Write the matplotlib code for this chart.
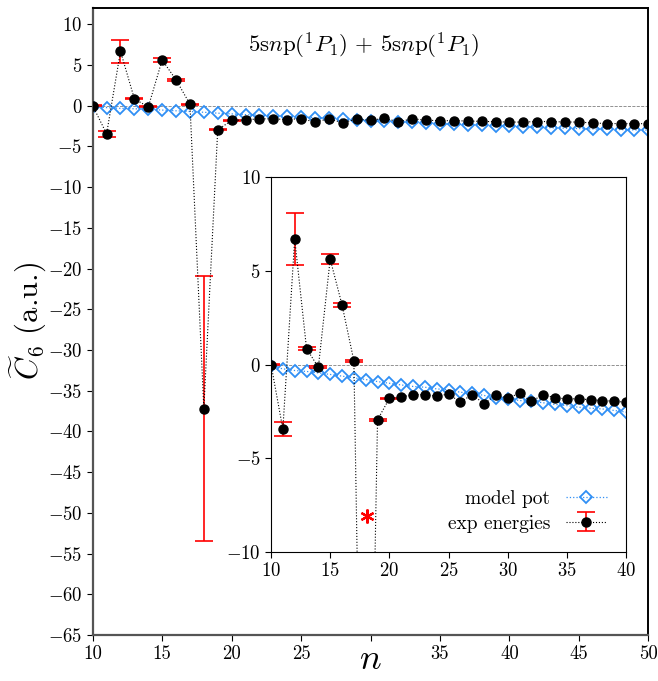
import numpy as np
import matplotlib
matplotlib.use("Agg")
import matplotlib.pyplot as plt

plt.rcParams['font.family'] = 'serif'
plt.rcParams['font.serif'] = ['cmr10', 'DejaVu Serif']
plt.rcParams['mathtext.fontset'] = 'cm'
plt.rcParams['axes.formatter.use_mathtext'] = True

# ---- data ----
n_vals = np.arange(10, 51)

model_pot = [-0.10, -0.23, -0.32, -0.37, -0.45, -0.53, -0.62, -0.71, -0.80, -0.91,
             -1.00, -1.09, -1.17, -1.21, -1.30, -1.35, -1.48, -1.53, -1.65, -1.78,
             -1.83, -1.92, -1.97, -2.04, -2.13, -2.19, -2.28, -2.33, -2.37, -2.45,
             -2.54, -2.60, -2.65, -2.70, -2.76, -2.80, -2.85, -2.89, -2.93, -2.97,
             -3.00]

exp_energies = [0.00, -3.45, 6.70, 0.85, -0.15, 5.62, 3.18, 0.20, -37.2, -2.95,
                -1.81, -1.74, -1.60, -1.62, -1.69, -1.57, -2.01, -1.60, -2.10, -1.62,
                -1.80, -1.53, -1.97, -1.60, -1.78, -1.83, -1.83, -1.88, -1.92, -1.96,
                -2.01, -2.00, -1.94, -1.94, -2.00, -2.00, -2.12, -2.18, -2.20, -2.20,
                -2.20]

exp_err = [0.05, 0.37, 1.40, 0.06, 0.06, 0.28, 0.12, 0.06, 16.3, 0.05,
           0.05] + [np.nan] * 30

main_xticks = [10, 15, 20, 25, 30, 35, 40, 45, 50]
main_xticklabels = ['10', '15', '20', '25', '', '35', '40', '45', '50']

star_n = [18.1]
star_val = [-8.1]

title_text = r'$5\mathrm{s}n\mathrm{p}(^1P_1)\,+\,5\mathrm{s}n\mathrm{p}(^1P_1)$'

# ---- figure ----
fig = plt.figure(figsize=(6.58, 6.81), dpi=100)
ax = fig.add_axes([0.1409, 0.0675, 0.8444, 0.9207])
axin = fig.add_axes([0.4119, 0.1894, 0.5395, 0.5507])

blue = '#2f8ff5'

def draw(a, lbl):
    a.axhline(0, ls='--', color='gray', lw=0.6, zorder=1)
    a.plot(n_vals, model_pot, ls=':', lw=0.9, color=blue, marker='D', ms=6,
           mfc='none', mec=blue, mew=1.3, label='model pot' if lbl else None, zorder=2)
    a.errorbar(n_vals, exp_energies, yerr=exp_err, fmt='o', ls=':', lw=0.8,
               color='black', ms=6.5, ecolor='red', elinewidth=1.2, capsize=6.5,
               capthick=1.2, label='exp energies' if lbl else None, zorder=3)

draw(ax, False)
draw(axin, True)

ax.set_xlim(10, 50)
ax.set_ylim(-65, 12)
ax.set_xticks(main_xticks)
ax.set_xticklabels(main_xticklabels)
ax.set_yticks(np.arange(-65, 11, 5))
ax.tick_params(labelsize=13.5, direction='out', length=4)
for s in ['left', 'bottom']:
    ax.spines[s].set_color('#555555')
    ax.spines[s].set_linewidth(1.6)
for s in ['right', 'top']:
    ax.spines[s].set_linewidth(1.4)
ax.set_xlabel(r'$n$', fontsize=26)
ax.xaxis.label.set_va('center')
ax.xaxis.set_label_coords(0.5, -0.04)
ax.set_ylabel(r'$\widetilde{C}_6$ (a.u.)', fontsize=22)
ax.yaxis.label.set_va('center')
ax.yaxis.set_label_coords(-0.115, 0.5)
ax.text(29.5, 7.3, title_text, fontsize=16.5, ha='center', va='center')

axin.set_xlim(10, 40)
axin.set_ylim(-10, 10)
axin.set_xticks(np.arange(10, 41, 5))
axin.set_yticks([-10, -5, 0, 5, 10])
axin.tick_params(labelsize=13.5, direction='out', length=4)
axin.plot(star_n, star_val, ls='none', marker=(6, 2, 0), ms=10, mew=1.6,
          color='red', zorder=4)
axin.legend(loc='lower right', frameon=False, markerfirst=False, fontsize=14,
            handlelength=2.1, borderaxespad=0.6, labelspacing=0.35)

fig.savefig('out.png', dpi=100)
